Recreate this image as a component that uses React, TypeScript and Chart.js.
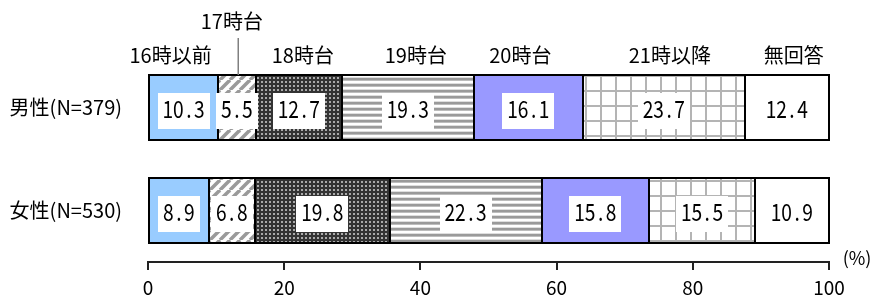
import React, { useEffect, useRef } from 'react';
import { Chart, registerables } from 'chart.js';

Chart.register(...registerables);

// ---- data ----
const categories = ['男性(N=379)', '女性(N=530)'];
const seriesNames = ['16時以前', '17時台', '18時台', '19時台', '20時台', '21時以降', '無回答'];
const before16 = [10.3, 8.9];
const at17 = [5.5, 6.8];
const at18 = [12.7, 19.8];
const at19 = [19.3, 22.3];
const at20 = [16.1, 15.8];
const after21 = [23.7, 15.5];
const noAnswer = [12.4, 10.9];
const xTicks = [0, 20, 40, 60, 80, 100];
const unitLabel = '(%)';

const seriesValues = [before16, at17, at18, at19, at20, after21, noAnswer];

const FONT = '"Noto Sans CJK JP", "Noto Sans", sans-serif';

function makePattern(w: number, h: number, draw: (g: CanvasRenderingContext2D) => void) {
  const c = document.createElement('canvas');
  c.width = w;
  c.height = h;
  const g = c.getContext('2d')!;
  draw(g);
  return g.createPattern(c, 'repeat')!;
}

function buildFills() {
  const diag = makePattern(10, 10, (g) => {
    g.fillStyle = '#fff';
    g.fillRect(0, 0, 10, 10);
    g.strokeStyle = '#9a9a9a';
    g.lineWidth = 3.5;
    for (const o of [-10, 0, 10]) {
      g.beginPath();
      g.moveTo(o, 10);
      g.lineTo(o + 10, 0);
      g.stroke();
    }
  });
  const dots = makePattern(4, 4, (g) => {
    g.fillStyle = '#333';
    g.fillRect(0, 0, 4, 4);
    g.fillStyle = '#aaa';
    g.fillRect(1, 1, 2, 2);
  });
  const hstripe = makePattern(6, 6, (g) => {
    const rows = ['#9a9a9a', '#9a9a9a', '#bdbdbd', '#fff', '#fff', '#dedede'];
    rows.forEach((c, i) => {
      g.fillStyle = c;
      g.fillRect(0, i, 6, 1);
    });
  });
  const grid = makePattern(15, 15, (g) => {
    g.fillStyle = '#fff';
    g.fillRect(0, 0, 15, 15);
    g.fillStyle = '#b4b4b4';
    g.fillRect(0, 0, 15, 2);
    g.fillRect(0, 0, 2, 15);
  });
  return ['#99CCFF', diag, dots, hstripe, '#9999FF', grid, '#ffffff'];
}

const HEADER_NUDGE = [-13, -5, 4, 8, -8, 6, 7];
const CELL = 10.5;

function drawMono(ctx: CanvasRenderingContext2D, text: string, cx: number, cy: number) {
  const w = text.length * CELL;
  ctx.save();
  ctx.font = `24px ${FONT}`;
  ctx.textAlign = 'center';
  ctx.textBaseline = 'alphabetic';
  ctx.fillStyle = '#000';
  for (let i = 0; i < text.length; i++) {
    const x = cx - w / 2 + CELL * (i + 0.5);
    ctx.save();
    ctx.translate(x, cy + 8.8);
    ctx.scale(0.8, 1);
    ctx.fillText(text[i], 0, 0);
    ctx.restore();
  }
  ctx.restore();
  return w;
}

const labelsPlugin = {
  id: 'labelsPlugin',
  afterDatasetsDraw(chart: any) {
    const ctx: CanvasRenderingContext2D = chart.ctx;
    // segment outlines (2px black, shared edges)
    ctx.save();
    ctx.strokeStyle = '#000';
    ctx.lineWidth = 2;
    seriesValues.forEach((vals, i) => {
      const meta = chart.getDatasetMeta(i);
      vals.forEach((_v, j) => {
        const el: any = meta.data[j];
        const x0 = Math.round(Math.min(el.base, el.x));
        const x1 = Math.round(Math.max(el.base, el.x));
        const y0 = Math.round(el.y - el.height / 2);
        const y1 = Math.round(el.y + el.height / 2);
        ctx.strokeRect(x0, y0, x1 - x0, y1 - y0);
      });
    });
    ctx.restore();
    // value labels
    seriesValues.forEach((vals, i) => {
      const meta = chart.getDatasetMeta(i);
      vals.forEach((v, j) => {
        const el: any = meta.data[j];
        const cx = (el.x + el.base) / 2;
        const cy = el.y;
        const txt = v.toFixed(1);
        const w = txt.length * CELL;
        ctx.save();
        ctx.fillStyle = '#fff';
        ctx.fillRect(Math.round(cx - w / 2 - 5), Math.round(cy + 3.5 - 18), Math.round(w + 10), 36);
        ctx.restore();
        drawMono(ctx, txt, cx, cy + 2);
      });
    });
    // series headers above first row
    ctx.save();
    ctx.font = `20px ${FONT}`;
    ctx.textAlign = 'center';
    ctx.textBaseline = 'middle';
    ctx.fillStyle = '#000';
    seriesNames.forEach((name, i) => {
      const el: any = chart.getDatasetMeta(i).data[0];
      const cx = (el.x + el.base) / 2;
      const top = el.y - el.height / 2;
      if (i === 1) {
        ctx.fillText(name, cx + HEADER_NUDGE[i], 21);
        ctx.save();
        ctx.strokeStyle = '#808080';
        ctx.lineWidth = 1.5;
        ctx.beginPath();
        ctx.moveTo(Math.round(cx) + 1.25, 38);
        ctx.lineTo(Math.round(cx) + 1.25, top);
        ctx.stroke();
        ctx.restore();
      } else {
        ctx.fillText(name, cx + HEADER_NUDGE[i], 55);
      }
    });
    // unit label
    ctx.font = `18px ${FONT}`;
    ctx.fillText(unitLabel, chart.chartArea.right + 28, 258);
    ctx.restore();
  },
};

export default function App() {
  const ref = useRef<HTMLCanvasElement | null>(null);
  useEffect(() => {
    if (!ref.current) return;
    Chart.defaults.font.family = FONT;
    const fills = buildFills();
    const chart = new Chart(ref.current, {
      type: 'bar',
      data: {
        labels: categories,
        datasets: seriesValues.map((vals, i) => ({
          label: seriesNames[i],
          data: vals,
          backgroundColor: fills[i] as any,
          borderWidth: 0,
          barPercentage: 1,
          categoryPercentage: 0.63,
        })),
      },
      options: {
        indexAxis: 'y',
        animation: false,
        responsive: false,
        devicePixelRatio: 1,
        layout: { padding: { top: 56, right: 42, left: 0, bottom: 0 } },
        plugins: { legend: { display: false }, tooltip: { enabled: false } },
        scales: {
          x: {
            stacked: true,
            min: 0,
            max: 100,
            afterBuildTicks: (s: any) => {
              s.ticks = xTicks.map((v) => ({ value: v }));
            },
            ticks: { font: { size: 19 }, color: '#000', padding: 6 },
            grid: { drawOnChartArea: false, drawTicks: true, tickLength: 8, color: '#222', lineWidth: 2 },
            border: { display: true, color: '#222', width: 2 },
            afterFit: (s: any) => {
              s.height = 37;
            },
          },
          y: {
            stacked: true,
            ticks: { font: { size: 20 }, color: '#000', padding: 18 },
            grid: { display: false },
            border: { display: false },
            afterFit: (s: any) => {
              s.width = 148;
            },
          },
        },
      } as any,
      plugins: [labelsPlugin],
    });
    return () => chart.destroy();
  }, []);
  return (
    <div style={{ position: 'fixed', left: 0, top: 0, width: 871, height: 299, background: '#fff' }}>
      <canvas ref={ref} width={871} height={299} style={{ display: 'block' }} />
    </div>
  );
}
